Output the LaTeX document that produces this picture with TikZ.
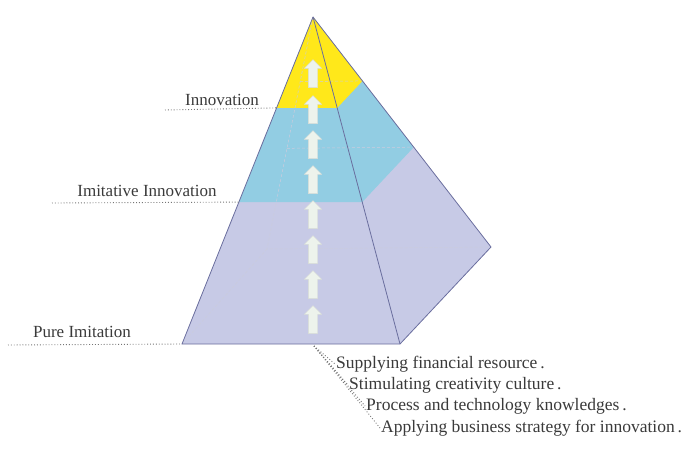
\documentclass[tikz,border=0pt]{standalone}
\usepackage{fontspec}
\setmainfont{Liberation Serif}
\usepackage{tikz}
\usetikzlibrary{calc,shapes.arrows}

\definecolor{lavender}{HTML}{C7CAE6}
\definecolor{skyblue}{HTML}{92CDE3}
\definecolor{topyellow}{HTML}{FFE81A}
\definecolor{edgeblue}{HTML}{6A6E9E}
\definecolor{arrowfill}{HTML}{EDF3EC}
\definecolor{labelgray}{HTML}{3A3A3A}

\tikzset{
  edge/.style={edgeblue,line width=0.8pt,line join=round},
  hidden/.style={edgeblue!35,line width=0.5pt,densely dashed},
  uparrow/.style={single arrow,shape border rotate=90,fill=arrowfill,draw=arrowfill!80!gray,
    line width=0.4pt,minimum height=28pt,inner sep=4.5pt,single arrow head extend=4pt},
  leader/.style={labelgray!70,line width=0.9pt,dotted},
  lvl/.style={text=labelgray,font=\fontsize{17}{19}\selectfont,inner sep=1pt},
  note/.style={lvl,anchor=west,font=\fontsize{17.5}{19}\selectfont}
}

\begin{document}
\begin{tikzpicture}[x=1pt,y=-1pt]
  \useasboundingbox (0,0) rectangle (689,452);

  \coordinate (top) at (313,17);
  \coordinate (fl) at (182,344);
  \coordinate (fr) at (400,344);
  \coordinate (br) at (491,247);
  \coordinate (bl) at (267,249);

  % horizontal cuts through the pyramid
  \foreach \c/\s in {a/0.278,b/0.566}{
    \coordinate (\c fl) at ($(top)!\s!(fl)$);
    \coordinate (\c fr) at ($(top)!\s!(fr)$);
    \coordinate (\c br) at ($(top)!\s!(br)$);
    \coordinate (\c bl) at ($(top)!\s!(bl)$);
  }

  \fill[lavender] (top) -- (fl) -- (fr) -- (br) -- cycle;
  \fill[skyblue] (top) -- (bfl) -- (bfr) -- (bbr) -- cycle;
  \fill[topyellow] (top) -- (afl) -- (afr) -- (abr) -- cycle;

  \draw[hidden] (fl) -- (bl) -- (br);
  \draw[hidden] (top) -- (bl);
  \draw[hidden] (abl) -- (abr);
  \draw[hidden] (bbl) -- (bbr);

  \draw[edge] (top) -- (fl) -- (fr) -- (br) -- cycle;
  \draw[edge] (top) -- (fr);

  \foreach \i/\y in {1/76,2/112,3/147,4/182,5/217,6/252,7/287,8/322}
    \node[uparrow] (arr\i) at (313,\y) {};

  % levels
  \node[lvl] (innov) at (222,100) {Innovation};
  \node[lvl] (imit) at (147,191) {Imitative Innovation};
  \node[lvl] (pure) at (82,332) {Pure Imitation};
  \coordinate (innovl) at (165,110);
  \coordinate (imitl) at (52,203);
  \coordinate (purel) at (8,345);
  \draw[leader] (innovl) -- (afl);
  \draw[leader] (imitl) -- (bfl);
  \draw[leader] (purel) -- (fl);

  % factors under the pyramid
  \coordinate (src) at (314,346);
  \node[note] (n1) at (335,364) {Supplying financial resource\,.};
  \node[note] (n2) at (348,385) {Stimulating creativity culture\,.};
  \node[note] (n3) at (365,406) {Process and technology knowledges\,.};
  \node[note] (n4) at (380,428) {Applying business strategy for innovation\,.};
  \foreach \i in {1,...,4}
    \draw[leader] (src) -- (n\i.west);
\end{tikzpicture}
\end{document}
